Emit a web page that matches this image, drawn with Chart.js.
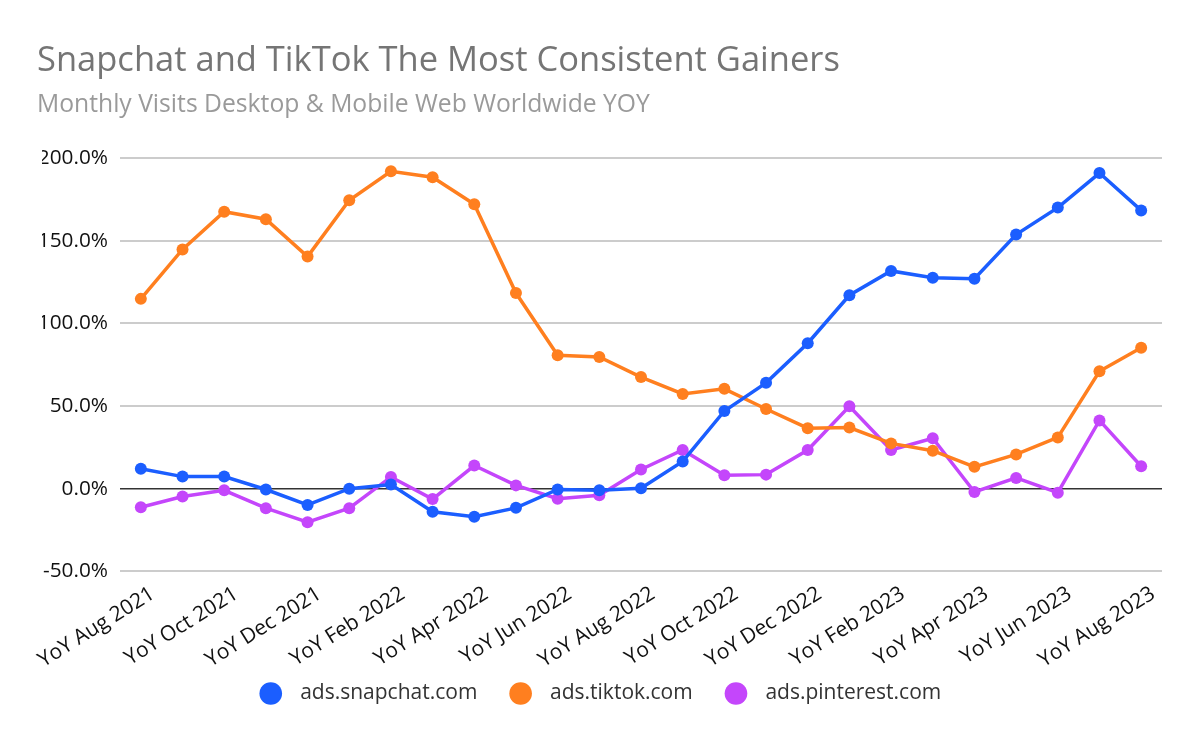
<!DOCTYPE html>
<html>
<head>
<meta charset="utf-8">
<script src="https://cdn.jsdelivr.net/npm/chart.js@4"></script>
<style>
  body { margin: 0; background: #fff; }
  .wrap { position: relative; width: 1200px; height: 742px; }
  canvas { display: block; }
  .title, .subtitle {
    position: absolute;
    left: 37px;
    margin: 0;
    font-family: "Open Sans", sans-serif;
    font-weight: normal;
    line-height: 1.2;
    white-space: nowrap;
  }
  .title { top: 37px; font-size: 34.5px; color: #757575; }
  .subtitle { top: 88px; font-size: 24.7px; color: #9a9a9a; }
</style>
</head>
<body>
<div class="wrap">
  <canvas id="chart" width="1200" height="742"></canvas>
  <h1 class="title">Snapchat and TikTok The Most Consistent Gainers</h1>
  <h2 class="subtitle">Monthly Visits Desktop &amp; Mobile Web Worldwide YOY</h2>
</div>
<script>
// months, Aug 2021 .. Aug 2023
let months = [
  "YoY Aug 2021", "YoY Sep 2021", "YoY Oct 2021", "YoY Nov 2021", "YoY Dec 2021",
  "YoY Jan 2022", "YoY Feb 2022", "YoY Mar 2022", "YoY Apr 2022", "YoY May 2022",
  "YoY Jun 2022", "YoY Jul 2022", "YoY Aug 2022", "YoY Sep 2022", "YoY Oct 2022",
  "YoY Nov 2022", "YoY Dec 2022", "YoY Jan 2023", "YoY Feb 2023", "YoY Mar 2023",
  "YoY Apr 2023", "YoY May 2023", "YoY Jun 2023", "YoY Jul 2023", "YoY Aug 2023"
];

// yoy change in %
let snapchat = [12, 7.3, 7.3, -0.5, -9.8, 0, 2.5, -14, -17, -11.6, -0.5, -1, 0.3,
  16.5, 47, 64, 88, 117, 131.7, 127.6, 127, 153.7, 170, 190.9, 168.3];
let tiktok = [114.8, 144.7, 167.5, 163, 140.4, 174.4, 192, 188.4, 172, 118.3, 80.7,
  79.7, 67.5, 57.3, 60.4, 48.2, 36.6, 37, 27.4, 23, 13.2, 20.7, 31, 71, 85.2];
let pinterest = [-11.2, -4.7, -1, -11.8, -20.3, -11.8, 7.1, -6.3, 14, 2, -6.1, -4,
  11.6, 23.4, 8.1, 8.5, 23.4, 49.8, 23.4, 30.5, -2, 6.5, -2.4, 41.3, 13.6];

let yTicks = [-50, 0, 50, 100, 150, 200];

let makeSeries = (label, data, color) => {
  return {
    label: label,
    data: data,
    borderColor: color,
    backgroundColor: color,
    borderWidth: 3.5,
    pointRadius: 6,
    pointHoverRadius: 6,
    pointBorderWidth: 0,
    tension: 0,
  };
};

new Chart(document.getElementById("chart"), {
  type: "line",
  data: {
    labels: months,
    datasets: [
      makeSeries("ads.snapchat.com", snapchat, "#1b5eff"),
      makeSeries("ads.tiktok.com", tiktok, "#ff7f1f"),
      makeSeries("ads.pinterest.com", pinterest, "#c446fb"),
    ],
  },
  options: {
    responsive: false,
    animation: false,
    layout: { padding: { left: 42, right: 38, top: 158, bottom: 28 } },
    plugins: {
      legend: {
        position: "bottom",
        labels: {
          usePointStyle: true,
          pointStyle: "circle",
          boxWidth: 16,
          boxHeight: 16,
          padding: 8,
          color: "#333",
          font: { family: "Open Sans", size: 21 },
          // extra spacing around the names, like the original legend
          generateLabels: (chart) => {
            let items = Chart.defaults.plugins.legend.labels.generateLabels(chart);
            items.forEach((item, i) => {
              item.text = "  " + item.text + (i < items.length - 1 ? "     " : "");
            });
            return items;
          },
        },
      },
      tooltip: { enabled: false },
    },
    scales: {
      y: {
        min: -50,
        max: 200,
        border: { display: false },
        afterBuildTicks: (axis) => {
          axis.ticks = yTicks.map((v) => ({ value: v }));
        },
        afterFit: (axis) => {
          axis.width = 78;
        },
        grid: {
          color: (ctx) => (ctx.tick && ctx.tick.value === 0 ? "#333" : "#cccccc"),
          lineWidth: (ctx) => (ctx.tick && ctx.tick.value === 0 ? 1.5 : 2),
          drawTicks: false,
        },
        ticks: {
          padding: 12,
          color: "#111",
          font: { family: "Open Sans", size: 20.8 },
          callback: (v) => v.toFixed(1) + "%",
        },
      },
      x: {
        offset: true,
        border: { display: false },
        grid: { display: false },
        // let the first rotated label hang out to the left like the original
        afterFit: (axis) => {
          axis.paddingLeft = 0;
        },
        ticks: {
          autoSkip: false,
          maxRotation: 32,
          minRotation: 32,
          padding: 2,
          labelOffset: 12,
          color: "#111",
          font: { family: "Open Sans", size: 21 },
          callback: function (v, i) {
            return i % 2 === 0 ? this.getLabelForValue(v) : "";
          },
        },
      },
    },
  },
});
</script>
</body>
</html>
